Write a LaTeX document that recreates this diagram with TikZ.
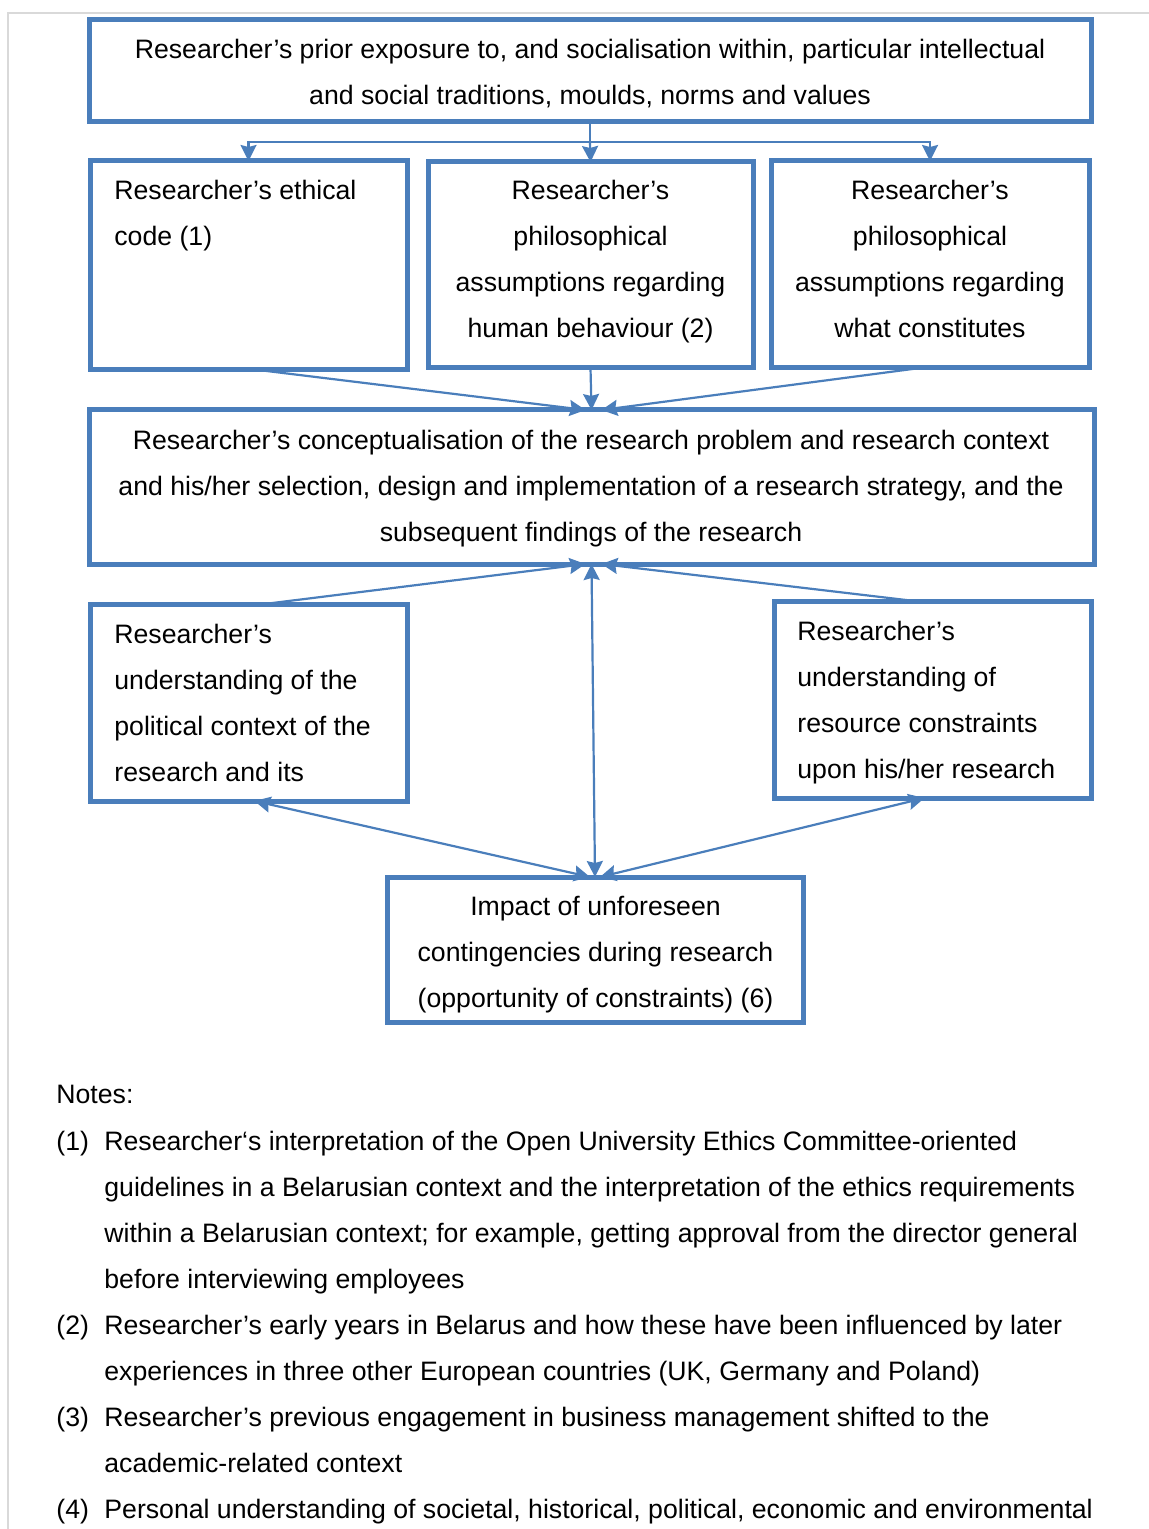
\documentclass[tikz,border=0pt]{standalone}
\usepackage{fontspec}
\setmainfont{Liberation Sans}
\usetikzlibrary{arrows.meta}
\definecolor{boxblue}{RGB}{74,126,187}
\definecolor{framegray}{RGB}{217,217,217}
\tikzset{
  box/.style={draw=boxblue,line width=2.5pt,inner sep=0pt,outer sep=0pt},
  txt/.style={inner sep=0pt,font=\fontsize{13.33pt}{23pt}\selectfont},
  link/.style={draw=boxblue,line width=1.1pt},
  onehead/.style={-{Stealth[length=8pt,width=8pt,inset=1pt]}},
  twohead/.style={{Stealth[length=8pt,width=8pt,inset=1pt]}-{Stealth[length=8pt,width=8pt,inset=1pt]}}
}
\begin{document}
\begin{tikzpicture}[x=0.5pt,y=-0.5pt]
  \useasboundingbox (0,0) rectangle (1149,1529);
  % page frame
  \draw[framegray,line width=0.8pt] (8,1529) -- (8,13) -- (1149,13);
  % instantiate boxes
  \node[box,minimum width=501pt,minimum height=51pt] (top) at (590,71) {};
  \node[box,minimum width=158.5pt,minimum height=104.5pt] (ethic) at (248.5,265.5) {};
  \node[box,minimum width=162.5pt,minimum height=103pt] (human) at (590.5,265) {};
  \node[box,minimum width=159pt,minimum height=103.5pt] (what) at (930,264.5) {};
  \node[box,minimum width=502.5pt,minimum height=77pt] (concept) at (591.5,487) {};
  \node[box,minimum width=158.5pt,minimum height=98.5pt] (polit) at (248.5,702.5) {};
  \node[box,minimum width=158.5pt,minimum height=98.5pt] (resource) at (932.5,699.5) {};
  \node[box,minimum width=208pt,minimum height=72.5pt] (impact) at (595,949.5) {};
  % box texts
  \node[txt,anchor=north,align=center] (top-t) at (590,39)
    {Researcher’s prior exposure to, and socialisation within, particular intellectual\\and social traditions, moulds, norms and values};
  \node[txt,anchor=north west,align=left] (ethic-t) at (114,180)
    {Researcher’s ethical\\code (1)};
  \node[txt,anchor=north,align=center] (human-t) at (590.5,180)
    {Researcher’s\\philosophical\\assumptions regarding\\human behaviour (2)};
  \node[txt,anchor=north,align=center] (what-t) at (930,180)
    {Researcher’s\\philosophical\\assumptions regarding\\what constitutes};
  \node[txt,anchor=north,align=center] (concept-t) at (591,430)
    {Researcher’s conceptualisation of the research problem and research context\\and his/her selection, design and implementation of a research strategy, and the\\subsequent findings of the research};
  \node[txt,anchor=north west,align=left] (polit-t) at (114,624)
    {Researcher’s\\understanding of the\\political context of the\\research and its};
  \node[txt,anchor=north west,align=left] (resource-t) at (797,621)
    {Researcher’s\\understanding of\\resource constraints\\upon his/her research};
  \node[txt,anchor=north,align=center] (impact-t) at (595.5,896)
    {Impact of unforeseen\\contingencies during research\\(opportunity of constraints) (6)};
  % fan out from the top box
  \coordinate (split) at (590,142);
  \draw[link] (top.south) -- (split);
  \draw[link,onehead] (split) -| (ethic.north);
  \draw[link,onehead] (split) -| (what.north);
  \draw[link,onehead] (split) -- (human.north);
  % into the conceptualisation box
  \draw[link,onehead] ([xshift=5pt]ethic.south) -- ([xshift=-3pt]concept.north);
  \draw[link,onehead] (human.south) -- (concept.north);
  \draw[link,onehead] ([xshift=-5pt]what.south) -- ([xshift=5pt]concept.north);
  \draw[link,onehead] ([xshift=8pt]polit.north) -- ([xshift=-3pt]concept.south);
  \draw[link,onehead] ([xshift=-9pt]resource.north) -- ([xshift=5pt]concept.south);
  % links with the contingencies box
  \draw[link,twohead] (impact.north) -- (concept.south);
  \draw[link,twohead] ([xshift=3pt]polit.south) -- ([xshift=-2.5pt]impact.north);
  \draw[link,twohead] ([xshift=-4pt]resource.south) -- ([xshift=2.5pt]impact.north);
  % notes
  \node[txt,anchor=north west] (notes) at (56,1085) {Notes:};
  \node[txt,anchor=north west] (n1-l) at (56,1131) {(1)};
  \node[txt,anchor=north west,align=left] (n1) at (104,1131)
    {Researcher‘s interpretation of the Open University Ethics Committee-oriented\\guidelines in a Belarusian context and the interpretation of the ethics requirements\\within a Belarusian context; for example, getting approval from the director general\\before interviewing employees};
  \node[txt,anchor=north west] (n2-l) at (56,1315) {(2)};
  \node[txt,anchor=north west,align=left] (n2) at (104,1315)
    {Researcher’s early years in Belarus and how these have been influenced by later\\experiences in three other European countries (UK, Germany and Poland)};
  \node[txt,anchor=north west] (n3-l) at (56,1407) {(3)};
  \node[txt,anchor=north west,align=left] (n3) at (104,1407)
    {Researcher’s previous engagement in business management shifted to the\\academic-related context};
  \node[txt,anchor=north west] (n4-l) at (56,1499) {(4)};
  \node[txt,anchor=north west,align=left] (n4) at (104,1499)
    {Personal understanding of societal, historical, political, economic and environmental};
\end{tikzpicture}
\end{document}
